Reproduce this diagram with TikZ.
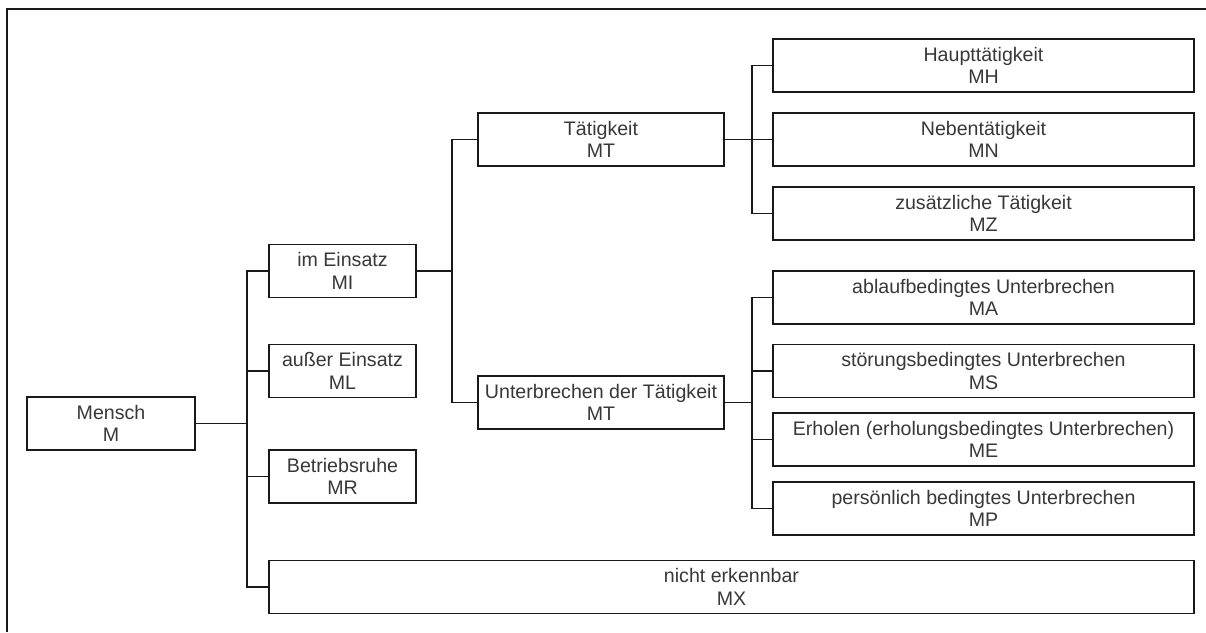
\documentclass[tikz,border=0pt]{standalone}
\usepackage{fontspec}
\setmainfont{Liberation Sans}
\begin{document}
\begin{tikzpicture}[x=1pt,y=-1pt,
  box/.style={draw=black!90, line width=1.6pt, fill=white, inner sep=0pt,
    minimum height=53pt, align=center, text=black!78,
    font=\fontsize{19.6}{22.5}\selectfont},
  wire/.style={draw=black!90, line width=1.6pt}]
\useasboundingbox (0,0) rectangle (1206,632);
% outer frame
\draw[black!15, line width=1pt] (6,632) -- (6,8) -- (1206,8);
\draw[black!90, line width=1.6pt] (7,632) -- (7,9) -- (1206,9);

% level 0
\node[box, minimum width=168pt] (M) at (111,423.5) {Mensch\\M};
% level 1
\node[box, minimum width=147pt] (MI) at (342.5,271) {im Einsatz\\MI};
\node[box, minimum width=147pt] (ML) at (342.5,371) {außer Einsatz\\ML};
\node[box, minimum width=147pt] (MR) at (342.5,476.5) {Betriebsruhe\\MR};
\node[box, minimum width=925pt] (MX) at (731.5,587) {nicht erkennbar\\MX};
% level 2
\node[box, minimum width=246pt] (MT) at (601,139.5) {Tätigkeit\\MT};
\node[box, minimum width=246pt] (MU) at (601,402.5) {Unterbrechen der Tätigkeit\\MT};
% level 3
\node[box, minimum width=421pt] (MH) at (983.5,65.5) {Haupttätigkeit\\MH};
\node[box, minimum width=421pt] (MN) at (983.5,139.5) {Nebentätigkeit\\MN};
\node[box, minimum width=421pt] (MZ) at (983.5,213.5) {zusätzliche Tätigkeit\\MZ};
\node[box, minimum width=421pt] (MA) at (983.5,297.5) {ablaufbedingtes Unterbrechen\\MA};
\node[box, minimum width=421pt] (MS) at (983.5,371) {störungsbedingtes Unterbrechen\\MS};
\node[box, minimum width=421pt] (ME) at (983.5,439.5) {Erholen (erholungsbedingtes Unterbrechen)\\ME};
\node[box, minimum width=421pt] (MP) at (983.5,508.5) {persönlich bedingtes Unterbrechen\\MP};

% branch points
\coordinate (j0) at (247,423.5);
\coordinate (j1) at (452,271);
\coordinate (j2) at (752,139.5);
\coordinate (j3) at (752,402.5);

\draw[wire] (M.east) -- (j0);
\foreach \n in {MI,ML,MR,MX} \draw[wire] (j0) |- (\n.west);
\draw[wire] (MI.east) -- (j1);
\foreach \n in {MT,MU} \draw[wire] (j1) |- (\n.west);
\draw[wire] (MT.east) -- (j2);
\foreach \n in {MH,MN,MZ} \draw[wire] (j2) |- (\n.west);
\draw[wire] (MU.east) -- (j3);
\foreach \n in {MA,MS,ME,MP} \draw[wire] (j3) |- (\n.west);
\end{tikzpicture}
\end{document}
